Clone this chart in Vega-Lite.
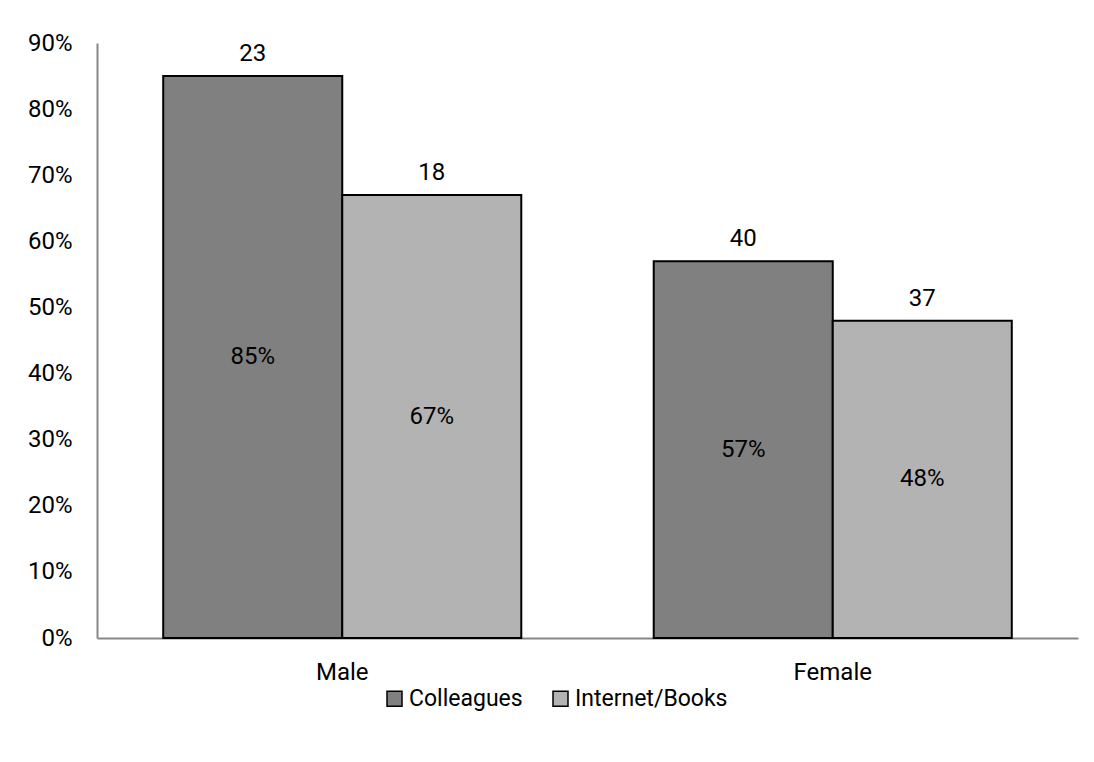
{
  "$schema": "https://vega.github.io/schema/vega-lite/v6.json",
  "autosize": "none",
  "width": 981,
  "height": 595,
  "padding": {"left": 97, "top": 43, "right": 16, "bottom": 124},
  "background": "white",
  "config": {
    "view": {"stroke": null},
    "font": "Roboto",
    "text": {"font": "Roboto"}
  },
  "data": {
    "values": [
      {"gender": "Male", "source": "Colleagues", "pct": 0.85, "count": 23},
      {"gender": "Male", "source": "Internet/Books", "pct": 0.67, "count": 18},
      {"gender": "Female", "source": "Colleagues", "pct": 0.57, "count": 40},
      {"gender": "Female", "source": "Internet/Books", "pct": 0.48, "count": 37}
    ]
  },
  "encoding": {
    "x": {
      "field": "gender", "type": "nominal", "sort": ["Male", "Female"],
      "scale": {"paddingInner": 0.27, "paddingOuter": 0.135},
      "axis": {"title": null, "labelAngle": 0, "ticks": false, "labelPadding": 22, "labelFontSize": 24, "labelColor": "#000", "domainColor": "#878787", "domainWidth": 2, "labelFont": "Roboto"}
    },
    "xOffset": {"field": "source", "type": "nominal", "sort": ["Colleagues", "Internet/Books"], "scale": {"paddingInner": 0, "paddingOuter": 0}}
  },
  "layer": [
    {
      "mark": {"type": "bar", "stroke": "black", "strokeWidth": 2},
      "encoding": {
        "y": {
          "field": "pct", "type": "quantitative",
          "scale": {"domain": [0, 0.9], "nice": false},
          "axis": {"title": null, "format": ".0%", "values": [0, 0.1, 0.2, 0.3, 0.4, 0.5, 0.6, 0.7, 0.8, 0.9], "grid": false, "ticks": false, "labelPadding": 25, "labelFontSize": 24, "labelColor": "#000", "domainColor": "#878787", "domainWidth": 2, "labelFont": "Roboto"}
        },
        "color": {
          "field": "source", "type": "nominal", "sort": ["Colleagues", "Internet/Books"],
          "scale": {"domain": ["Colleagues", "Internet/Books"], "range": ["#808080", "#b3b3b3"]},
          "legend": {
            "title": null, "orient": "none", "direction": "horizontal",
            "legendX": 286, "legendY": 644, "padding": 0,
            "symbolType": "square", "symbolSize": 225, "symbolStrokeColor": "black", "symbolStrokeWidth": 1.5,
            "labelFontSize": 23, "labelColor": "#000", "labelOffset": 3, "columnPadding": 26, "labelFont": "Roboto"
          }
        }
      }
    },
    {
      "mark": {"type": "text", "fontSize": 24, "dy": -15, "baseline": "alphabetic", "color": "black"},
      "encoding": {
        "y": {"field": "pct", "type": "quantitative", "scale": {"domain": [0, 0.9], "nice": false}, "axis": null},
        "text": {"field": "count", "type": "quantitative"}
      }
    },
    {
      "mark": {"type": "text", "fontSize": 24, "baseline": "middle", "color": "black"},
      "encoding": {
        "y": {"field": "pct", "type": "quantitative", "scale": {"domain": [0, 1.8], "nice": false}, "axis": null},
        "text": {"field": "pct", "type": "quantitative", "format": ".0%"}
      }
    }
  ],
  "resolve": {"scale": {"y": "independent"}}
}
